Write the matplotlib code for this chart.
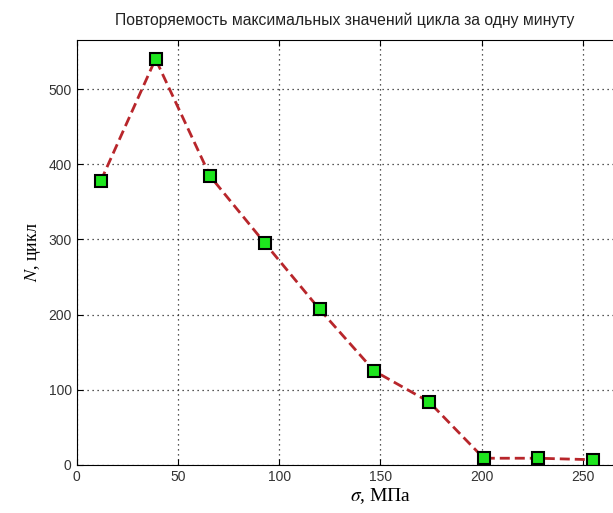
import numpy as np
import matplotlib
matplotlib.use("Agg")
import matplotlib.pyplot as plt

# data
sigma = [12, 39, 66, 93, 120, 147, 174, 201, 228, 255]
cycles = [378, 540, 384, 295, 207, 125, 84, 9, 9, 7]

x_ticks = [0, 50, 100, 150, 200, 250]
y_ticks = [0, 100, 200, 300, 400, 500]

title = "Повторяемость максимальных значений цикла за одну минуту"

plt.rcParams['font.family'] = ['Liberation Sans', 'DejaVu Sans']
plt.rcParams['mathtext.fontset'] = 'stix'

fig = plt.figure(figsize=(6.13, 5.13), dpi=100)
# right edge of axes lies outside the picture (cropped like the original)
ax = fig.add_axes([76.5 / 613, 48 / 513, 607.8 / 613, 425.5 / 513])

ax.plot(sigma, cycles, '--', color='#b8262b', lw=2, dashes=(3.6, 1.8),
        marker='s', ms=9, mfc='#1ee61e', mec='black', mew=1.5)

ax.set_xlim(0, 300)
ax.set_ylim(0, 566)
ax.set_xticks(x_ticks)
ax.set_yticks(y_ticks)
ax.tick_params(direction='in', top=True, right=True, labelsize=10, length=4,
               labelcolor='#333333')
ax.grid(True, linestyle=(0, (1, 3)), color='#222222', lw=0.9)

ax.set_xlabel(r'$\sigma$, МПа', family='Liberation Serif', fontsize=14, labelpad=2)
ax.set_ylabel(r'$N$, цикл', family='Liberation Serif', fontsize=13, labelpad=4)

fig.text(345 / 613, 1 - 20 / 513, title, ha='center', va='center', fontsize=11.3,
         color='#222222')

plt.savefig('out.png', dpi=100)
